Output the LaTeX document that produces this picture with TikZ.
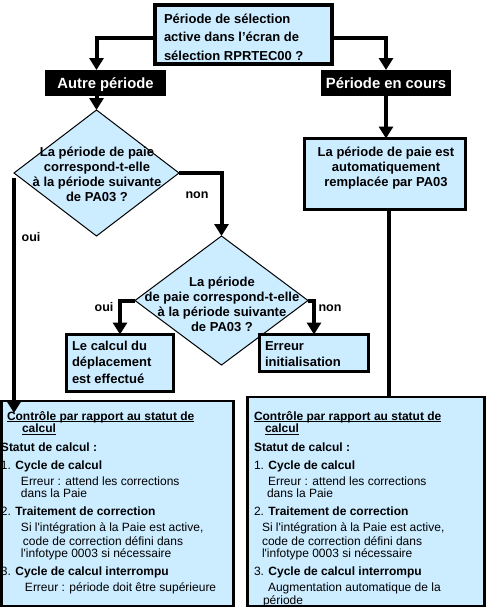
\documentclass[tikz,border=0pt]{standalone}
\usepackage{fontspec}
\setmainfont{Liberation Sans}
\usetikzlibrary{shapes.geometric,arrows.meta}
\definecolor{lb}{RGB}{204,236,255}
\newsavebox\ulbx
\newcommand\myul[1]{\sbox\ulbx{#1}\rlap{\rule[-2pt]{\wd\ulbx}{0.9pt}}\usebox\ulbx}
\tikzset{
  box/.style={draw, fill=lb, line width=3.5pt, inner sep=0pt, outer sep=0pt},
  bigbox/.style={draw, fill=lb, line width=2.5pt, inner sep=0pt, outer sep=0pt},
  dia/.style={diamond, draw, fill=lb, line width=1pt, inner sep=0pt, outer sep=0pt},
  tag/.style={fill=black, text=white, inner sep=0pt, outer sep=0pt,
    font=\fontsize{14.8}{16}\selectfont\bfseries, text height=10.6pt, text depth=0pt},
  btxt/.style={inner sep=0pt, outer sep=0pt, font=\fontsize{13}{15.2}\selectfont\bfseries},
  stxt/.style={inner sep=0pt, outer sep=0pt, anchor=north west, align=left,
    font=\fontsize{12}{12.5}\selectfont},
  lbl/.style={inner sep=0pt, anchor=base, font=\fontsize{12.5}{14}\selectfont\bfseries},
  conn/.style={line width=4pt, -{Triangle[width=14pt,length=12pt]}},
  plain/.style={line width=4pt}
}
\begin{document}
\begin{tikzpicture}[x=1pt,y=-1pt]
\fill[white] (0,0) rectangle (486,608);
\useasboundingbox (0,0) rectangle (486,608);

% top question box
\node[box, line width=4pt, minimum width=177pt, minimum height=59pt] (top) at (243,34) {};
\node[btxt, anchor=north west, align=left, font=\fontsize{13}{18.7}\selectfont\bfseries] (topt) at (164,12)
  {\rule{0pt}{11pt}Période de sélection\\ active dans l’écran de\\ sélection RPRTEC00 ?};

% tags
\node[tag, minimum width=121pt, minimum height=26pt] (autre) at (105.5,83) {Autre période};
\node[tag, minimum width=130pt, minimum height=26pt] (encours) at (386,83) {Période en cours};

% first diamond
\node[dia, minimum width=165pt, minimum height=126pt] (d1) at (96.5,173) {};
\node[btxt, anchor=north, align=center] (d1t) at (97,145)
  {\rule{0pt}{11pt}La période de paie\\ correspond-t-elle\\ à la période suivante\\ de PA03 ?};

% box right
\node[box, minimum width=161pt, minimum height=71pt] (box2) at (385,174) {};
\node[btxt, anchor=north, align=center, font=\fontsize{13}{15}\selectfont\bfseries] (box2t) at (386,145.7)
  {\rule{0pt}{11pt}La période de paie est\\ automatiquement\\ remplacée par PA03};

% second diamond
\node[dia, minimum width=173pt, minimum height=129pt] (d2) at (221.5,300.5) {};
\node[btxt, anchor=north, align=center, font=\fontsize{13}{15}\selectfont\bfseries] (d2t) at (222,275.7)
  {\rule{0pt}{11pt}La période\\ de paie correspond-t-elle\\ à la période suivante\\ de PA03 ?};

% result boxes
\node[box, minimum width=107pt, minimum height=57pt] (calc) at (120,363) {};
\node[btxt, anchor=north west, align=left, font=\fontsize{13}{16.7}\selectfont\bfseries] (calct) at (72,339)
  {\rule{0pt}{11pt}Le calcul du\\ déplacement\\ est effectué};
\node[box, minimum width=109pt, minimum height=37pt] (err) at (314,353) {};
\node[btxt, anchor=north west, align=left, font=\fontsize{13}{16.7}\selectfont\bfseries] (errt) at (265,339)
  {\rule{0pt}{11pt}Erreur\\ initialisation};

% bottom boxes
\node[bigbox, minimum width=232.25pt, minimum height=205pt] (boxL) at (117.4,503.5) {};
\node[bigbox, minimum width=237pt, minimum height=209pt] (boxR) at (366,501.5) {};

\node[stxt] (tL) at (1,409) {%
\rule{0pt}{11pt}\hspace*{6pt}\textbf{\myul{Contrôle par rapport au statut de}}\\
\hspace*{21pt}\textbf{\myul{calcul}}\\[6pt]
\textbf{Statut de calcul :}\\[6pt]
1. \textbf{Cycle de calcul}\\[3pt]
\hspace*{20pt}Erreur : attend les corrections\\
\hspace*{20pt}dans la Paie\\[5.5pt]
2. \textbf{Traitement de correction}\\[3pt]
\hspace*{20pt}Si l\textquotesingle intégration à la Paie est active,\\[1.5pt]
\hspace*{22pt}code de correction défini dans\\
\hspace*{20pt}l\textquotesingle infotype 0003 si nécessaire\\[5.5pt]
3. \textbf{Cycle de calcul interrompu}\\[3pt]
\hspace*{24pt}Erreur : période doit être supérieure};

\node[stxt] (tR) at (254,409) {%
\rule{0pt}{11pt}\textbf{\myul{Contrôle par rapport au statut de}}\\
\hspace*{11pt}\textbf{\myul{calcul}}\\[6pt]
\textbf{Statut de calcul :}\\[6pt]
1. \textbf{Cycle de calcul}\\[3pt]
\hspace*{14pt}Erreur : attend les corrections\\
\hspace*{13pt}dans la Paie\\[5.5pt]
2. \textbf{Traitement de correction}\\[3pt]
\hspace*{8pt}Si l\textquotesingle intégration à la Paie est active,\\[1.5pt]
\hspace*{8pt}code de correction défini dans\\
\hspace*{8pt}l\textquotesingle infotype 0003 si nécessaire\\[5.5pt]
3. \textbf{Cycle de calcul interrompu}\\[3pt]
\hspace*{14pt}Augmentation automatique de la\\[1pt]
\hspace*{9pt}période};

% connectors
\draw[conn] ([yshift=-4pt]top.west) -| (d1.north |- autre.north);
\draw[conn] ([yshift=-4pt]top.east) -| (encours.north);
\draw[conn] (d1.north |- autre.south) -- (d1.north);
\draw[conn] (encours.south) -- (encours.south |- box2.north);
\draw[conn] (d1.east) -| (d2.north);
\draw[conn] ([yshift=-5pt]d1.west) -- ([yshift=-12pt]d1.west |- boxL.north);
\draw[conn] (d2.west) -| (calc.north);
\draw[conn] (d2.east) -| (err.north);
\draw[plain] ([xshift=4pt]box2.south) -- ([xshift=4pt]box2.south |- boxR.north);

% labels
\node[lbl] (non1) at (197,198) {non};
\node[lbl] (oui1) at (31,241.7) {oui};
\node[lbl] (oui2) at (104,311.7) {oui};
\node[lbl] (non2) at (330,311.7) {non};
\end{tikzpicture}
\end{document}
